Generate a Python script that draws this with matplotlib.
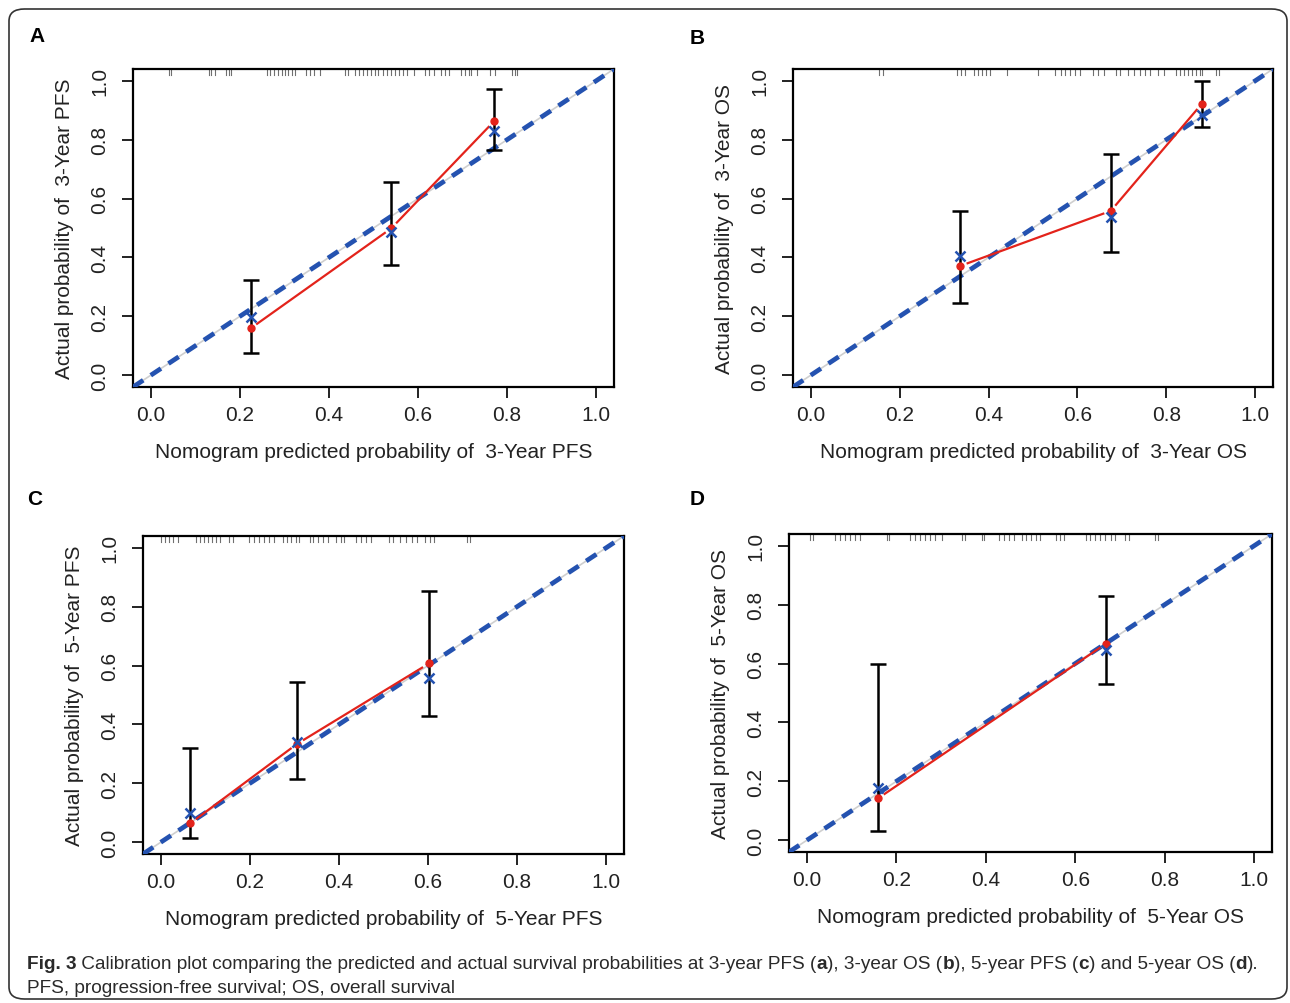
import matplotlib
matplotlib.use("Agg")
import matplotlib.pyplot as plt
from matplotlib.patches import FancyBboxPatch
import numpy as np

plt.rcParams["font.family"] = ["Liberation Sans", "DejaVu Sans"]

# ---- data ----
a_pred = [0.224, 0.540, 0.771]
a_obs = [0.159, 0.499, 0.863]
a_cor = [0.198, 0.485, 0.830]
a_lo = [0.077, 0.374, 0.766]
a_hi = [0.323, 0.657, 0.973]
a_rug = [0.040, 0.045, 0.130, 0.136, 0.145, 0.168, 0.175, 0.179, 0.260, 0.268, 0.277,
         0.286, 0.295, 0.302, 0.309, 0.318, 0.324, 0.349, 0.358, 0.367, 0.380, 0.436,
         0.443, 0.459, 0.468, 0.477, 0.485, 0.494, 0.503, 0.510, 0.521, 0.530, 0.539,
         0.548, 0.557, 0.566, 0.575, 0.591, 0.615, 0.624, 0.635, 0.651, 0.660, 0.669,
         0.696, 0.705, 0.714, 0.720, 0.732, 0.761, 0.772, 0.812, 0.817, 0.823]

b_pred = [0.336, 0.675, 0.880]
b_obs = [0.371, 0.558, 0.922]
b_cor = [0.405, 0.537, 0.884]
b_lo = [0.245, 0.418, 0.844]
b_hi = [0.558, 0.752, 1.000]
b_rug = [0.154, 0.163, 0.329, 0.338, 0.347, 0.367, 0.376, 0.385, 0.394, 0.403, 0.441,
         0.512, 0.550, 0.562, 0.573, 0.584, 0.595, 0.606, 0.635, 0.647, 0.660, 0.687,
         0.696, 0.714, 0.727, 0.740, 0.752, 0.763, 0.781, 0.794, 0.821, 0.830, 0.839,
         0.848, 0.857, 0.866, 0.875, 0.881, 0.911, 0.919]

c_pred = [0.066, 0.306, 0.602]
c_obs = [0.064, 0.334, 0.607]
c_cor = [0.098, 0.340, 0.559]
c_lo = [0.016, 0.214, 0.429]
c_hi = [0.320, 0.545, 0.852]
c_rug = [0.000, 0.009, 0.018, 0.027, 0.038, 0.078, 0.087, 0.096, 0.105, 0.114, 0.123,
         0.132, 0.154, 0.161, 0.199, 0.210, 0.221, 0.232, 0.243, 0.254, 0.275, 0.283,
         0.292, 0.304, 0.310, 0.335, 0.342, 0.353, 0.364, 0.375, 0.393, 0.404, 0.411,
         0.438, 0.449, 0.460, 0.471, 0.513, 0.522, 0.538, 0.551, 0.565, 0.576, 0.594,
         0.605, 0.614, 0.688, 0.694]

d_pred = [0.159, 0.669]
d_obs = [0.142, 0.668]
d_cor = [0.179, 0.645]
d_lo = [0.033, 0.529]
d_hi = [0.600, 0.831]
d_rug = [0.007, 0.013, 0.063, 0.074, 0.085, 0.096, 0.107, 0.118, 0.179, 0.183, 0.230,
         0.241, 0.252, 0.263, 0.275, 0.286, 0.301, 0.346, 0.353, 0.391, 0.395, 0.429,
         0.440, 0.451, 0.462, 0.480, 0.491, 0.502, 0.513, 0.522, 0.556, 0.567, 0.574,
         0.623, 0.634, 0.645, 0.656, 0.667, 0.679, 0.690, 0.712, 0.721, 0.779, 0.786]

letters = ["A", "B", "C", "D"]
outcomes = ["3-Year PFS", "3-Year OS", "5-Year PFS", "5-Year OS"]
ticks = [0.0, 0.2, 0.4, 0.6, 0.8, 1.0]

W, H = 1290, 1004
fig = plt.figure(figsize=(W / 100, H / 100), dpi=100)


def px_rect(l, t, r, b):
    return [l / W, (H - b) / H, (r - l) / W, (b - t) / H]


boxes = [px_rect(133, 70, 614, 388), px_rect(793, 70, 1273, 388),
         px_rect(143, 537, 624, 855), px_rect(789, 535, 1272, 853)]
letter_pos = [(37, 36), (697, 38), (35, 500), (697, 500)]

panels = [(a_pred, a_obs, a_cor, a_lo, a_hi, a_rug),
          (b_pred, b_obs, b_cor, b_lo, b_hi, b_rug),
          (c_pred, c_obs, c_cor, c_lo, c_hi, c_rug),
          (d_pred, d_obs, d_cor, d_lo, d_hi, d_rug)]

red = "#e3231b"
blue = "#2452b0"


def gapped_line(ax, xs, ys, gap=8):
    # R type="b": segments stop short of each point
    pts = ax.transData.transform(np.column_stack([xs, ys]))
    inv = ax.transData.inverted()
    for p0, p1 in zip(pts[:-1], pts[1:]):
        d = p1 - p0
        n = np.hypot(*d)
        q0 = inv.transform(p0 + d / n * gap)
        q1 = inv.transform(p1 - d / n * gap)
        ax.plot([q0[0], q1[0]], [q0[1], q1[1]], color=red, lw=1.6, zorder=4)


for i, (pred, obs, cor, lo, hi, rug) in enumerate(panels):
    ax = fig.add_axes(boxes[i])
    ax.set_xlim(-0.04, 1.04)
    ax.set_ylim(-0.04, 1.04)
    for s in ax.spines.values():
        s.set_linewidth(1.6)

    ax.set_xticks(ticks)
    ax.set_yticks(ticks)
    ax.set_xticklabels([f"{t:.1f}" for t in ticks])
    ax.set_yticklabels([f"{t:.1f}" for t in ticks], rotation=90, va="center")
    ax.tick_params(length=8, width=1.4, labelsize=15, colors="#222222")
    ax.tick_params(axis="x", pad=5)
    ax.tick_params(axis="y", pad=9)

    # ideal line: thin grey under thick blue dashes
    ax.plot([-0.04, 1.04], [-0.04, 1.04], color="#cfcfcf", lw=1.2, zorder=2)
    ax.plot([-0.04, 1.04], [-0.04, 1.04], color=blue, lw=3.4,
            dashes=(2.6, 1.9), zorder=3)

    # rug of predicted values at top
    for r in rug:
        ax.plot([r, r], [1.04, 1.02], color="#707070", lw=0.8, zorder=2)

    ax.errorbar(pred, obs, yerr=[np.array(obs) - np.array(lo), np.array(hi) - np.array(obs)],
                fmt="none", ecolor="black", elinewidth=1.8, capsize=6, capthick=1.8, zorder=5)
    gapped_line(ax, pred, obs)
    ax.plot(pred, obs, "o", color=red, ms=5, zorder=6)
    ax.plot(pred, cor, "x", color=blue, ms=7, mew=1.8, zorder=7)

    ax.set_xlabel("Nomogram predicted probability of  " + outcomes[i],
                  fontsize=15, labelpad=13, color="#222222")
    ax.set_ylabel("Actual probability of  " + outcomes[i],
                  fontsize=15, labelpad=12, color="#222222")

    lx, ly = letter_pos[i]
    fig.text(lx / W, 1 - ly / H, letters[i], fontsize=15, fontweight="bold",
             ha="center", va="center")

# rounded frame around the figure
frame = FancyBboxPatch((9 / W, 4 / H), 1278 / W, 990 / H,
                       boxstyle="round,pad=0,rounding_size=0.012",
                       transform=fig.transFigure, fill=False,
                       edgecolor="#333333", lw=1.2)
fig.patches.append(frame)

# caption with bold bits, pieces chained one after the other
cap_size = 13.7
line1 = [("Fig. 3", "bold"),
         (" Calibration plot comparing the predicted and actual survival probabilities at 3-year PFS (", "normal"),
         ("a", "bold"), ("), 3-year OS (", "normal"), ("b", "bold"),
         ("), 5-year PFS (", "normal"), ("c", "bold"), (") and 5-year OS (", "normal"),
         ("d", "bold"), (").", "normal")]
prev = fig.text(27 / W, 1 - 973 / H, line1[0][0], fontsize=cap_size, fontweight=line1[0][1],
                color="#2a2a2a", va="bottom")
for txt, wt in line1[1:]:
    prev = plt.annotate(txt, xy=(1, 0), xycoords=prev, va="bottom", ha="left",
                        fontsize=cap_size, fontweight=wt, color="#2a2a2a",
                        annotation_clip=False)
fig.text(27 / W, 1 - 997 / H, "PFS, progression-free survival; OS, overall survival",
         fontsize=cap_size, color="#2a2a2a", va="bottom")

fig.savefig("out.png", dpi=100)
